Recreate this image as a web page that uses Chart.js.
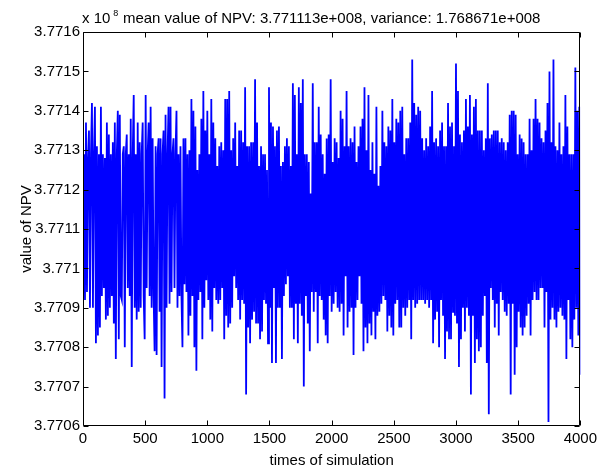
<!DOCTYPE html>
<html>
<head>
<meta charset="utf-8">
<script src="https://cdn.jsdelivr.net/npm/chart.js@4/dist/chart.umd.min.js"></script>
<style>
html,body{margin:0;padding:0;background:#fff;}
#wrap{width:601px;height:472px;position:relative;}
</style>
</head>
<body>
<div id="wrap"><canvas id="c" width="601" height="472"></canvas></div>
<script>
const npvE8 = [
3.77118,3.77129,3.77092,3.77137,3.77094,3.77128,3.77135,3.77090,3.77129,3.77142,
3.77090,3.77129,3.77141,3.77081,3.77131,3.77083,3.77129,3.77085,3.77141,3.77093,
3.77129,3.77095,3.77128,3.77087,3.77137,3.77088,3.77134,3.77090,3.77129,3.77093,
3.77132,3.77086,3.77137,3.77077,3.77129,3.77140,3.77082,3.77139,3.77093,3.77092,
3.77129,3.77131,3.77080,3.77129,3.77134,3.77095,3.77129,3.77093,3.77138,3.77075,
3.77129,3.77144,3.77090,3.77129,3.77087,3.77137,3.77089,3.77132,3.77090,3.77129,
3.77137,3.77093,3.77082,3.77144,3.77095,3.77129,3.77137,3.77093,3.77141,3.77090,
3.77133,3.77093,3.77079,3.77131,3.77078,3.77129,3.77133,3.77089,3.77133,3.77075,
3.77129,3.77135,3.77067,3.77139,3.77090,3.77129,3.77141,3.77091,3.77141,3.77094,
3.77129,3.77133,3.77095,3.77129,3.77140,3.77090,3.77129,3.77093,3.77131,3.77093,
3.77080,3.77133,3.77096,3.77133,3.77094,3.77129,3.77083,3.77130,3.77088,3.77143,
3.77093,3.77140,3.77080,3.77136,3.77074,3.77125,3.77092,3.77129,3.77094,3.77138,
3.77082,3.77145,3.77090,3.77135,3.77097,3.77140,3.77092,3.77129,3.77087,3.77143,
3.77084,3.77137,3.77095,3.77133,3.77092,3.77126,3.77091,3.77131,3.77092,3.77132,
3.77095,3.77130,3.77082,3.77143,3.77088,3.77143,3.77085,3.77145,3.77086,3.77130,
3.77090,3.77133,3.77098,3.77137,3.77095,3.77126,3.77092,3.77135,3.77087,3.77135,
3.77092,3.77132,3.77091,3.77146,3.77068,3.77131,3.77085,3.77131,3.77081,3.77132,
3.77087,3.77132,3.77089,3.77148,3.77086,3.77137,3.77086,3.77126,3.77082,3.77131,
3.77084,3.77129,3.77092,3.77129,3.77091,3.77125,3.77081,3.77146,3.77090,3.77137,
3.77076,3.77136,3.77095,3.77131,3.77076,3.77135,3.77090,3.77136,3.77090,3.77126,
3.77077,3.77127,3.77093,3.77131,3.77096,3.77133,3.77098,3.77131,3.77090,3.77126,
3.77090,3.77147,3.77082,3.77144,3.77091,3.77129,3.77081,3.77146,3.77091,3.77142,
3.77088,3.77148,3.77070,3.77129,3.77093,3.77129,3.77086,3.77127,3.77079,3.77119,
3.77094,3.77147,3.77089,3.77132,3.77094,3.77132,3.77081,3.77141,3.77093,3.77134,
3.77092,3.77129,3.77087,3.77124,3.77083,3.77133,3.77081,3.77134,3.77093,3.77148,
3.77089,3.77127,3.77091,3.77133,3.77094,3.77132,3.77090,3.77128,3.77089,3.77140,
3.77091,3.77138,3.77083,3.77131,3.77098,3.77145,3.77085,3.77131,3.77089,3.77133,
3.77090,3.77132,3.77078,3.77136,3.77090,3.77127,3.77092,3.77131,3.77098,3.77136,
3.77091,3.77138,3.77079,3.77146,3.77085,3.77130,3.77081,3.77144,3.77086,3.77125,
3.77083,3.77132,3.77089,3.77124,3.77082,3.77141,3.77088,3.77121,3.77089,3.77126,
3.77091,3.77140,3.77093,3.77132,3.77092,3.77131,3.77084,3.77136,3.77088,3.77135,
3.77085,3.77143,3.77083,3.77132,3.77091,3.77138,3.77092,3.77137,3.77085,3.77140,
3.77085,3.77141,3.77090,3.77129,3.77088,3.77133,3.77090,3.77133,3.77092,3.77137,
3.77082,3.77153,3.77092,3.77142,3.77090,3.77139,3.77091,3.77141,3.77092,3.77140,
3.77092,3.77133,3.77092,3.77130,3.77091,3.77133,3.77092,3.77131,3.77090,3.77136,
3.77092,3.77145,3.77081,3.77132,3.77087,3.77133,3.77089,3.77131,3.77080,3.77135,
3.77092,3.77137,3.77088,3.77131,3.77077,3.77131,3.77084,3.77142,3.77082,3.77136,
3.77082,3.77137,3.77089,3.77131,3.77088,3.77152,3.77086,3.77145,3.77075,3.77134,
3.77082,3.77132,3.77090,3.77135,3.77084,3.77143,3.77090,3.77136,3.77088,3.77144,
3.77068,3.77134,3.77088,3.77141,3.77076,3.77143,3.77082,3.77135,3.77079,3.77135,
3.77080,3.77135,3.77088,3.77130,3.77093,3.77133,3.77076,3.77147,3.77063,3.77133,
3.77095,3.77134,3.77092,3.77135,3.77085,3.77135,3.77091,3.77135,3.77083,3.77132,
3.77094,3.77133,3.77092,3.77132,3.77089,3.77130,3.77088,3.77132,3.77091,3.77139,
3.77068,3.77140,3.77091,3.77140,3.77073,3.77139,3.77080,3.77129,3.77089,3.77134,
3.77085,3.77133,3.77083,3.77132,3.77085,3.77129,3.77088,3.77129,3.77091,3.77138,
3.77083,3.77130,3.77092,3.77138,3.77094,3.77143,3.77092,3.77138,3.77092,3.77137,
3.77095,3.77133,3.77095,3.77132,3.77085,3.77135,3.77094,3.77142,3.77061,3.77150,
3.77087,3.77132,3.77090,3.77153,3.77087,3.77131,3.77085,3.77130,3.77089,3.77137,
3.77090,3.77129,3.77088,3.77131,3.77087,3.77144,3.77077,3.77136,3.77092,3.77129,
3.77082,3.77129,3.77080,3.77129,3.77087,3.77151,3.77090,3.77140,3.77083,3.77141,
3.77073
];
const sampleStep = 8; // simulations between consecutive samples
const xTicks = [0, 500, 1000, 1500, 2000, 2500, 3000, 3500, 4000];
const yTicks = [3.7706, 3.7707, 3.7708, 3.7709, 3.7710, 3.7711, 3.7712, 3.7713, 3.7714, 3.7715, 3.7716];
const titleText = 'mean value of NPV: 3.771113e+008, variance: 1.768671e+008';
const exponentBase = 'x 10';
const exponentPower = '8';
const xTitle = 'times of simulation';
const yTitle = 'value of NPV';

const FONT = "'Liberation Sans', Arial, Helvetica, sans-serif";

const points = npvE8.map((v, i) => ({x: i * sampleStep, y: v}));

const matlabAxes = {
  id: 'matlabAxes',
  afterDatasetsDraw(chart) {
    const {ctx, chartArea: a, scales: {x, y}} = chart;
    ctx.save();
    ctx.strokeStyle = '#000';
    ctx.lineWidth = 1;
    ctx.beginPath();
    const L = Math.round(a.left) + 0.5, R = Math.round(a.right) - 0.5;
    const T = Math.round(a.top) + 0.5, B = Math.round(a.bottom) - 0.5;
    ctx.rect(L, T, R - L, B - T);
    const tl = 5;
    xTicks.forEach(v => {
      const px = Math.round(x.getPixelForValue(v)) + 0.5;
      ctx.moveTo(px, B); ctx.lineTo(px, B - tl);
      ctx.moveTo(px, T); ctx.lineTo(px, T + tl);
    });
    yTicks.forEach(v => {
      const py = Math.round(y.getPixelForValue(v)) + 0.5;
      ctx.moveTo(L, py); ctx.lineTo(L + tl, py);
      ctx.moveTo(R, py); ctx.lineTo(R - tl, py);
    });
    ctx.stroke();
    ctx.restore();
  },
  afterDraw(chart) {
    const {ctx, chartArea: a} = chart;
    ctx.save();
    ctx.fillStyle = '#000';
    ctx.textBaseline = 'alphabetic';
    ctx.font = '15px ' + FONT;
    ctx.textAlign = 'center';
    ctx.fillText(titleText, (a.left + a.right) / 2, 22.5);
    ctx.textAlign = 'left';
    ctx.font = '15px ' + FONT;
    ctx.fillText(exponentBase, 82, 23);
    const w = ctx.measureText(exponentBase).width;
    ctx.font = '9px ' + FONT;
    ctx.fillText(exponentPower, 82 + w + 3, 16);
    ctx.restore();
  }
};

new Chart(document.getElementById('c'), {
  type: 'line',
  data: {
    datasets: [{
      data: points,
      borderColor: '#0000ff',
      borderWidth: 1.8,
      pointRadius: 0,
      tension: 0,
      fill: false
    }]
  },
  options: {
    responsive: false,
    animation: false,
    events: [],
    layout: {padding: {left: 0, right: 17, top: 32, bottom: 0}},
    plugins: {legend: {display: false}, tooltip: {enabled: false}, title: {display: false}},
    scales: {
      x: {
        type: 'linear',
        min: 0, max: 4000,
        grid: {display: false, drawTicks: false},
        border: {display: false},
        afterBuildTicks: s => { s.ticks = xTicks.map(v => ({value: v})); },
        afterFit: s => { s.height = 46; },
        ticks: {color: '#000', font: {family: FONT, size: 15}, padding: 4, maxRotation: 0, autoSkip: false,
                callback: v => String(v)},
        title: {display: true, text: xTitle, color: '#000', font: {family: FONT, size: 15}, padding: {top: 0, bottom: 2}}
      },
      y: {
        type: 'linear',
        min: 3.7706, max: 3.7716,
        grid: {display: false, drawTicks: false},
        border: {display: false},
        afterBuildTicks: s => { s.ticks = yTicks.map(v => ({value: v})); },
        afterFit: s => { s.width = 83; },
        ticks: {color: '#000', font: {family: FONT, size: 15}, padding: 3, autoSkip: false,
                callback: v => String(+v.toFixed(4))},
        title: {display: true, text: yTitle, color: '#000', font: {family: FONT, size: 15}, padding: {top: 18, bottom: 0}}
      }
    }
  },
  plugins: [matlabAxes]
});
</script>
</body>
</html>
